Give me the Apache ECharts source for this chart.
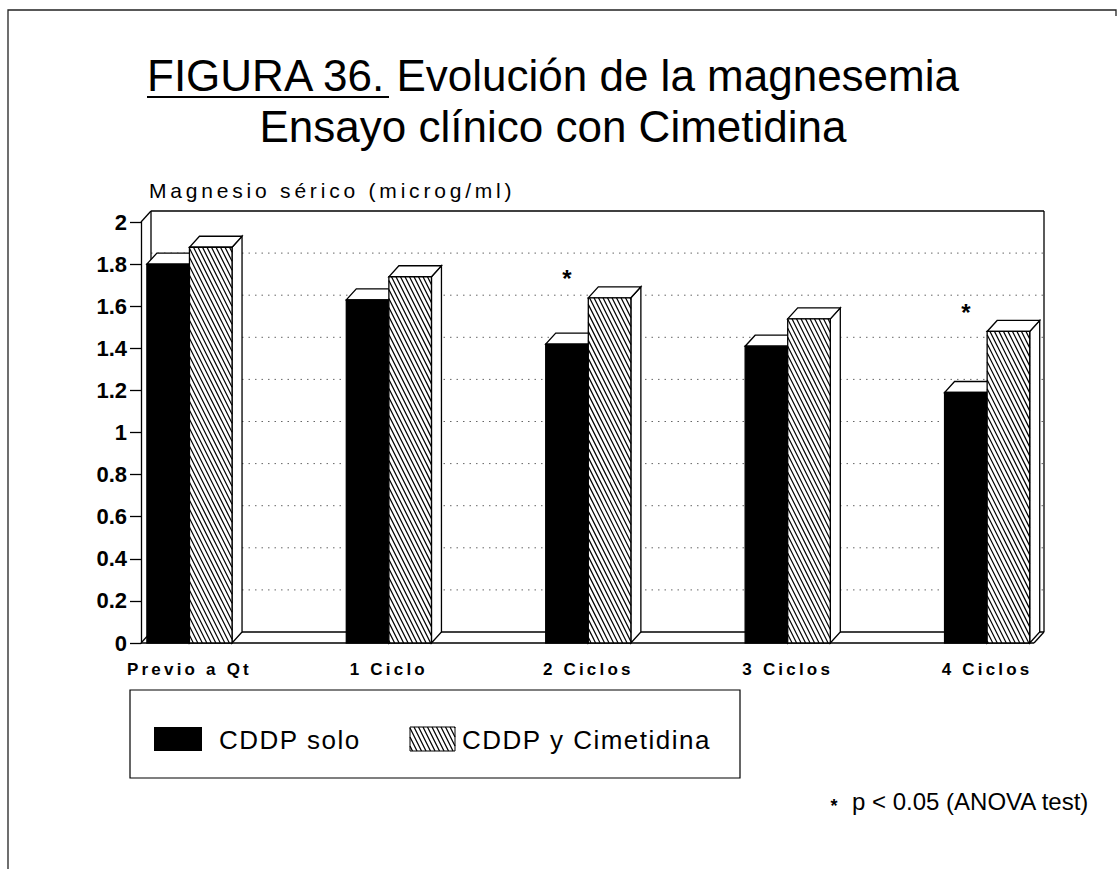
<!DOCTYPE html>
<html>
<head>
<meta charset="utf-8">
<script src="https://cdn.jsdelivr.net/npm/echarts@6/dist/echarts.min.js"></script>
<style>
  html, body { margin: 0; padding: 0; background: #fff; }
  #chart { width: 1120px; height: 869px; }
  /* wide plotter-style lettering for the small texts */
  #chart text[style*="17px"] { letter-spacing: 3.2px; }
  #chart text[style*="21px"] { letter-spacing: 3.8px; }
  #chart text[style*="26px"] { letter-spacing: 1.5px; }
</style>
</head>
<body>
<div id="chart"></div>
<script>
// ---- data ----
const categories = ['Previo a Qt', '1 Ciclo', '2 Ciclos', '3 Ciclos', '4 Ciclos'];
const seriesNames = ['CDDP solo', 'CDDP y Cimetidina'];
const cddpSolo = [1.80, 1.63, 1.42, 1.41, 1.19];
const cddpCimetidina = [1.88, 1.74, 1.64, 1.54, 1.48];
const significant = [false, false, true, false, true];
const yTicks = [0, 0.2, 0.4, 0.6, 0.8, 1, 1.2, 1.4, 1.6, 1.8, 2];
const titleLines = ['FIGURA 36. Evolución de la magnesemia', 'Ensayo clínico con Cimetidina'];
const yAxisName = 'Magnesio sérico (microg/ml)';
const footnote = 'p < 0.05 (ANOVA test)';

// ---- drawing constants ----
const FONT = '"Liberation Sans", Arial, Helvetica, sans-serif';
const DEPTH = [10, -11];      // 3D offset of the back plane, px
const BAR_W = 0.2135;         // bar width in category units
const X_MIN = -0.243, X_MAX = 4.235;
const HATCH_STEP = 4.5, HATCH_SLOPE = 2;

// diagonal "\\\" hatching inside a rectangle
function hatchLines(x0, y0, x1, y1) {
  const out = [];
  const h = y1 - y0;
  let c = Math.floor((x0 - h / HATCH_SLOPE) / HATCH_STEP) * HATCH_STEP;
  for (; c <= x1; c += HATCH_STEP) {
    const ya = Math.max(y0, y0 + HATCH_SLOPE * (x0 - c));
    const yb = Math.min(y1, y0 + HATCH_SLOPE * (x1 - c));
    if (yb - ya > 0.5) {
      out.push({
        type: 'line',
        shape: { x1: c + (ya - y0) / HATCH_SLOPE, y1: ya, x2: c + (yb - y0) / HATCH_SLOPE, y2: yb },
        style: { stroke: '#000', lineWidth: 1.2 }
      });
    }
  }
  return out;
}

function shift(p) { return [p[0] + DEPTH[0], p[1] + DEPTH[1]]; }

// back wall, floor and dotted grid lines
function renderFrame(params, api) {
  const tl = api.coord([X_MIN, 2]), tr = api.coord([X_MAX, 2]);
  const bl = api.coord([X_MIN, 0]), br = api.coord([X_MAX, 0]);
  const solid = { stroke: '#000', lineWidth: 1.3 };
  const kids = [];
  const seg = (a, b, st) => kids.push({ type: 'line', shape: { x1: a[0], y1: a[1], x2: b[0], y2: b[1] }, style: st || solid });
  yTicks.forEach(t => {
    if (t > 0 && t < 2) {
      seg(shift(api.coord([X_MIN, t])), shift(api.coord([X_MAX, t])),
        { stroke: '#666', lineWidth: 1, lineDash: [1.5, 5] });
    }
  });
  seg(shift(tl), shift(tr));
  seg(tl, shift(tl));
  seg(shift(tl), shift(bl));
  seg(shift(tr), shift(br));
  seg(shift(bl), shift(br));
  seg(bl, br);
  seg(bl, shift(bl));
  seg(br, shift(br));
  return { type: 'group', children: kids };
}

// one 3D bar: side, top and front faces
function barRenderer(leftSide, dark) {
  return function (params, api) {
    const i = api.value(0), v = api.value(1);
    const xl = leftSide ? i - BAR_W : i;
    const xr = xl + BAR_W;
    const a = api.coord([xl, v]), b = api.coord([xr, 0]);
    const [dx, dy] = DEPTH;
    const x0 = a[0], yt = a[1], x1 = b[0], yb = b[1];
    const face = { fill: '#fff', stroke: '#000', lineWidth: 1.3 };
    const kids = [
      { type: 'polygon', shape: { points: [[x1, yt], [x1 + dx, yt + dy], [x1 + dx, yb + dy], [x1, yb]] }, style: face },
      { type: 'polygon', shape: { points: [[x0, yt], [x1, yt], [x1 + dx, yt + dy], [x0 + dx, yt + dy]] }, style: face },
      { type: 'rect', shape: { x: x0, y: yt, width: x1 - x0, height: yb - yt },
        style: { fill: dark ? '#000' : '#fff', stroke: '#000', lineWidth: 1.3 } }
    ];
    if (!dark) kids.push(...hatchLines(x0, yt, x1, yb));
    return { type: 'group', children: kids };
  };
}

function renderCategoryLabel(params, api) {
  const p = api.coord([api.value(0), 0]);
  return {
    type: 'text',
    style: { text: categories[params.dataIndex], x: p[0], y: p[1] + 26, align: 'center', verticalAlign: 'middle',
      fontSize: 17, fontWeight: 'bold', fontFamily: FONT, fill: '#000' }
  };
}

function renderStar(params, api) {
  const i = api.value(0), v = api.value(1);
  const p = api.coord([i - BAR_W / 2, v]);
  return {
    type: 'text',
    style: { text: '*', x: p[0], y: p[1] - 19, align: 'center', verticalAlign: 'middle',
      fontSize: 24, fontWeight: 'bold', fontFamily: FONT, fill: '#000' }
  };
}

const chart = echarts.init(document.getElementById('chart'), null, { renderer: 'svg' });

const legendHatch = hatchLines(410, 727, 455, 751);

chart.setOption({
  animation: false,
  backgroundColor: '#fff',
  grid: { left: 141, right: 86, top: 222, bottom: 226 },
  xAxis: { type: 'value', min: X_MIN, max: X_MAX, show: false },
  yAxis: {
    type: 'value', min: 0, max: 2, interval: 0.2,
    axisLine: { show: true, onZero: false, lineStyle: { color: '#000', width: 1.3 } },
    axisTick: { show: true, length: 11, customValues: yTicks, lineStyle: { color: '#000', width: 1.3 } },
    axisLabel: {
      customValues: yTicks, margin: 14, color: '#000', fontFamily: FONT, fontSize: 22, fontWeight: 'bold',
      formatter: v => String(+(+v).toFixed(1))
    },
    splitLine: { show: false }
  },
  series: [
    { type: 'custom', name: 'frame', silent: true, data: [[0, 0]], renderItem: renderFrame, z: 1 },
    { type: 'custom', name: seriesNames[0], silent: true, data: cddpSolo.map((v, i) => [i, v]),
      renderItem: barRenderer(true, true), z: 2 },
    { type: 'custom', name: seriesNames[1], silent: true, data: cddpCimetidina.map((v, i) => [i, v]),
      renderItem: barRenderer(false, false), z: 3 },
    { type: 'custom', name: 'labels', silent: true, data: categories.map((c, i) => [i, 0]),
      renderItem: renderCategoryLabel, z: 4 },
    { type: 'custom', name: 'signif', silent: true,
      data: cddpCimetidina.map((v, i) => [i, v]).filter((d, i) => significant[i]),
      renderItem: renderStar, z: 4 }
  ],
  graphic: [
    // page frame
    { type: 'polyline', silent: true, shape: { points: [[8, 869], [8, 10], [1116, 10], [1116, 16]] },
      style: { stroke: '#222', lineWidth: 1.3, fill: null } },
    // two-line heading
    { type: 'text', silent: true, style: { text: titleLines[0], x: 553, y: 75, align: 'center', verticalAlign: 'middle',
      fontFamily: FONT, fontSize: 44, fill: '#000' } },
    { type: 'text', silent: true, style: { text: titleLines[1], x: 553, y: 126, align: 'center', verticalAlign: 'middle',
      fontFamily: FONT, fontSize: 44, fill: '#000' } },
    // underline of the figure number
    { type: 'line', silent: true, shape: { x1: 147, y1: 97, x2: 389, y2: 97 }, style: { stroke: '#000', lineWidth: 2 } },
    // y axis title
    { type: 'text', silent: true, style: { text: yAxisName, x: 149, y: 190, verticalAlign: 'middle',
      fontFamily: FONT, fontSize: 21, fill: '#000' } },
    // legend box
    { type: 'rect', silent: true, shape: { x: 130, y: 690, width: 610, height: 88 },
      style: { fill: null, stroke: '#000', lineWidth: 1.2 } },
    { type: 'rect', silent: true, shape: { x: 154, y: 727, width: 48, height: 24 }, style: { fill: '#000' } },
    { type: 'group', silent: true, children: [
      { type: 'rect', shape: { x: 410, y: 727, width: 45, height: 24 }, style: { fill: '#fff', stroke: '#000', lineWidth: 1 } }
    ].concat(legendHatch) },
    { type: 'text', silent: true, style: { text: seriesNames[0], x: 219, y: 740, verticalAlign: 'middle',
      fontFamily: FONT, fontSize: 26, fill: '#000' } },
    { type: 'text', silent: true, style: { text: seriesNames[1], x: 462, y: 740, verticalAlign: 'middle',
      fontFamily: FONT, fontSize: 26, fill: '#000' } },
    // significance note
    { type: 'text', silent: true, style: { text: '*', x: 834, y: 806, align: 'center', verticalAlign: 'middle',
      fontFamily: FONT, fontSize: 18, fontWeight: 'bold', fill: '#000' } },
    { type: 'text', silent: true, style: { text: footnote, x: 852, y: 801, verticalAlign: 'middle',
      fontFamily: FONT, fontSize: 24, fill: '#000' } }
  ]
});
</script>
</body>
</html>
